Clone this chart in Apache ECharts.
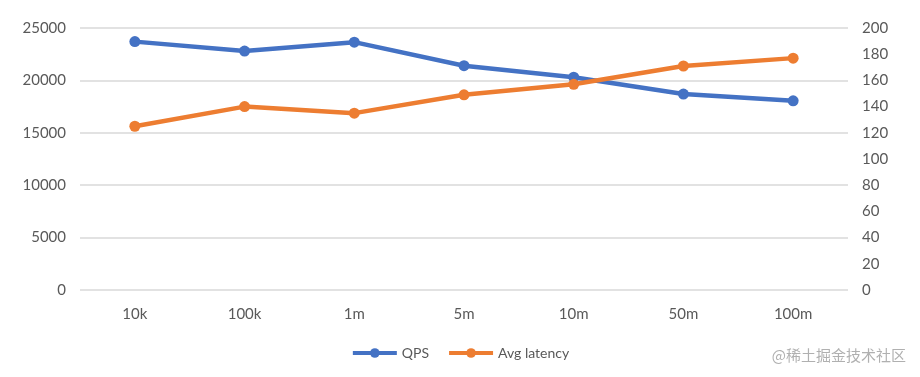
<!DOCTYPE html>
<html>
<head>
<meta charset="utf-8">
<script src="https://cdn.jsdelivr.net/npm/echarts@6/dist/echarts.min.js"></script>
<style>
  html, body { margin: 0; padding: 0; background: #fff; }
  #chart { width: 920px; height: 377px; }
</style>
</head>
<body>
<div id="chart"></div>
<script>
var categories = ['10k', '100k', '1m', '5m', '10m', '50m', '100m'];
var qps = [23700, 22800, 23650, 21400, 20300, 18700, 18050];
var latency = [125, 140, 135, 149, 157, 171, 177];

var chart = echarts.init(document.getElementById('chart'));
var labelStyle = { color: '#595959', fontSize: 15, fontFamily: 'Lato' };

var option = {
    animation: false,
    grid: { left: 80, right: 72, top: 28, bottom: 87 },
    legend: {
        bottom: 12,
        left: 'center',
        itemWidth: 44,
        itemHeight: 12,
        itemGap: 18,
        lineStyle: { width: 4 },
        textStyle: { color: '#595959', fontSize: 14, fontFamily: 'Lato' },
        data: ['QPS', 'Avg latency']
    },
    graphic: [{
        type: 'text',
        right: 14,
        bottom: 14,
        style: { text: '@稀土掘金技术社区', fill: '#b0b0b0', font: '15px "Noto Sans CJK SC"' }
    }],
    xAxis: {
        type: 'category',
        data: categories,
        axisLine: { show: false },
        axisTick: { show: false },
        axisLabel: Object.assign({ margin: 17 }, labelStyle)
    },
    yAxis: [
        {
            type: 'value',
            min: 0, max: 25000, interval: 5000,
            axisLine: { show: false },
            axisTick: { show: false },
            axisLabel: Object.assign({ margin: 14, formatter: function (v) { return String(v); } }, labelStyle),
            splitLine: { lineStyle: { color: '#d9d9d9', width: 1.5 } }
        },
        {
            type: 'value',
            min: 0, max: 200, interval: 20,
            axisLine: { show: false },
            axisTick: { show: false },
            axisLabel: Object.assign({ margin: 14 }, labelStyle),
            splitLine: { show: false }
        }
    ],
    series: [
        {
            name: 'QPS',
            type: 'line',
            yAxisIndex: 0,
            data: qps,
            symbol: 'circle',
            symbolSize: 11,
            itemStyle: { color: '#4472C4' },
            lineStyle: { color: '#4472C4', width: 4.5 }
        },
        {
            name: 'Avg latency',
            type: 'line',
            yAxisIndex: 1,
            data: latency,
            symbol: 'circle',
            symbolSize: 11,
            itemStyle: { color: '#ED7D31' },
            lineStyle: { color: '#ED7D31', width: 4.5 }
        }
    ]
};
chart.setOption(option);
</script>
</body>
</html>
